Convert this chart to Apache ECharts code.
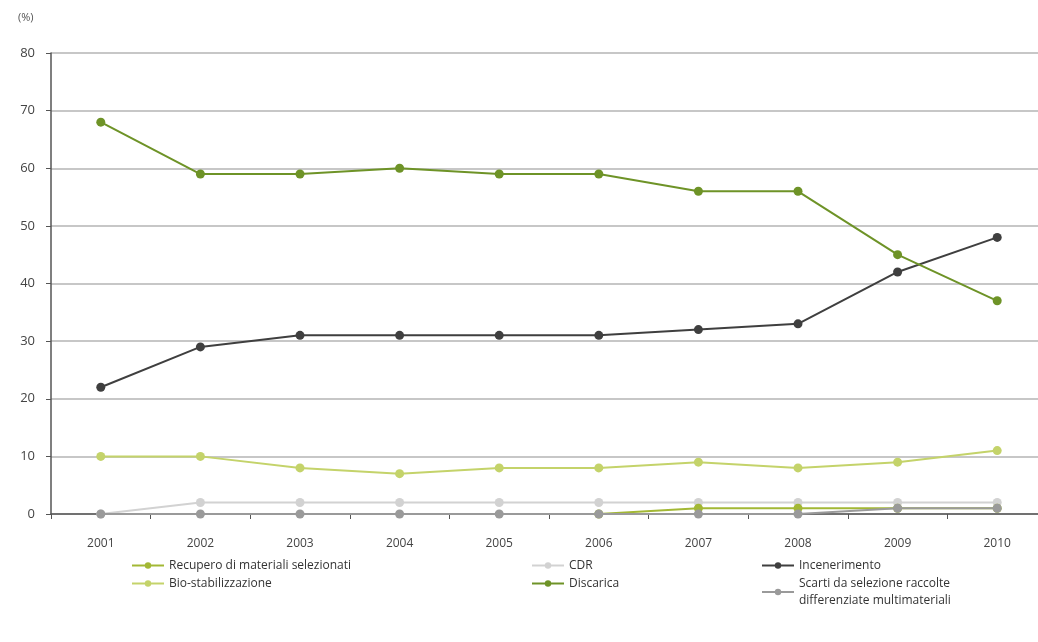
<!DOCTYPE html>
<html>
<head>
<meta charset="utf-8">
<script src="https://cdn.jsdelivr.net/npm/echarts@6/dist/echarts.min.js"></script>
<style>
  html, body { margin: 0; padding: 0; background: #fff; overflow: hidden; }
  #chart { width: 1047px; height: 642px; }
</style>
</head>
<body>
<div id="chart"></div>
<script>
// Anni
const years = ['2001', '2002', '2003', '2004', '2005', '2006', '2007', '2008', '2009', '2010'];

// Quote percentuali per forma di gestione
const recupero = [null, null, null, null, null, 0, 1, 1, 1, 1];
const cdr = [0, 2, 2, 2, 2, 2, 2, 2, 2, 2];
const incenerimento = [22, 29, 31, 31, 31, 31, 32, 33, 42, 48];
const bioStabilizzazione = [10, 10, 8, 7, 8, 8, 9, 8, 9, 11];
const discarica = [68, 59, 59, 60, 59, 59, 56, 56, 45, 37];
const scarti = [0, 0, 0, 0, 0, 0, 0, 0, 1, 1];

const yTicks = [0, 10, 20, 30, 40, 50, 60, 70, 80];

const names = {
  recupero: 'Recupero di materiali selezionati',
  cdr: 'CDR',
  incenerimento: 'Incenerimento',
  bio: 'Bio-stabilizzazione',
  discarica: 'Discarica',
  scarti: 'Scarti da selezione raccolte\ndifferenziate multimateriali'
};

const colors = {
  recupero: '#a3b835',
  cdr: '#d2d2d2',
  incenerimento: '#3f3f3f',
  bio: '#c4d36a',
  discarica: '#6e9327',
  scarti: '#9a9a9a'
};

const FONT = 'Open Sans';

function lineSeries(name, data, color, z) {
  return {
    name: name,
    type: 'line',
    data: data,
    z: z,
    symbol: 'circle',
    symbolSize: 9,
    showAllSymbol: true,
    connectNulls: false,
    lineStyle: { color: color, width: 2 },
    itemStyle: { color: color },
    emphasis: { disabled: true },
    animation: false
  };
}

function legendAt(name, left, top) {
  return {
    data: [name],
    left: left,
    top: top,
    orient: 'vertical',
    itemWidth: 32,
    itemHeight: 8,
    itemGap: 0,
    selectedMode: false,
    textStyle: { fontFamily: FONT, fontSize: 12, color: '#333', lineHeight: 17 }
  };
}

const chart = echarts.init(document.getElementById('chart'), null, { renderer: 'canvas' });

chart.setOption({
  backgroundColor: '#ffffff',
  animation: false,
  // the plot runs past the right edge of the window, so the last band is cut
  grid: { left: 51, right: 0, top: 53, bottom: 128, containLabel: false },
  graphic: [{
    type: 'text',
    left: 18,
    top: 12,
    style: { text: '(%)', fontFamily: FONT, fontSize: 11, fill: '#555' }
  }],
  legend: [
    legendAt(names.recupero, 126, 552),
    legendAt(names.bio, 126, 570),
    legendAt(names.cdr, 526, 552),
    legendAt(names.discarica, 526, 570),
    legendAt(names.incenerimento, 756, 552),
    legendAt(names.scarti, 756, 570)
  ],
  xAxis: {
    type: 'category',
    data: years,
    boundaryGap: true,
    axisLine: { show: true, lineStyle: { color: '#555', width: 1.5 } },
    axisTick: { show: true, alignWithLabel: false, length: 5, lineStyle: { color: '#555' } },
    axisLabel: { fontFamily: FONT, fontSize: 12, color: '#444', margin: 24 },
    splitLine: { show: false }
  },
  yAxis: {
    type: 'value',
    min: yTicks[0],
    max: yTicks[yTicks.length - 1],
    interval: 10,
    axisLine: { show: true, lineStyle: { color: '#555', width: 1.5 } },
    axisTick: { show: true, length: 5, lineStyle: { color: '#555' } },
    axisLabel: { fontFamily: FONT, fontSize: 13, color: '#444', margin: 16 },
    splitLine: { show: true, lineStyle: { color: '#b5b5b5', width: 1.5 } }
  },
  series: [
    lineSeries(names.cdr, cdr, colors.cdr, 2),
    lineSeries(names.recupero, recupero, colors.recupero, 3),
    lineSeries(names.scarti, scarti, colors.scarti, 4),
    lineSeries(names.bio, bioStabilizzazione, colors.bio, 5),
    lineSeries(names.incenerimento, incenerimento, colors.incenerimento, 6),
    lineSeries(names.discarica, discarica, colors.discarica, 7)
  ]
});
</script>
</body>
</html>
